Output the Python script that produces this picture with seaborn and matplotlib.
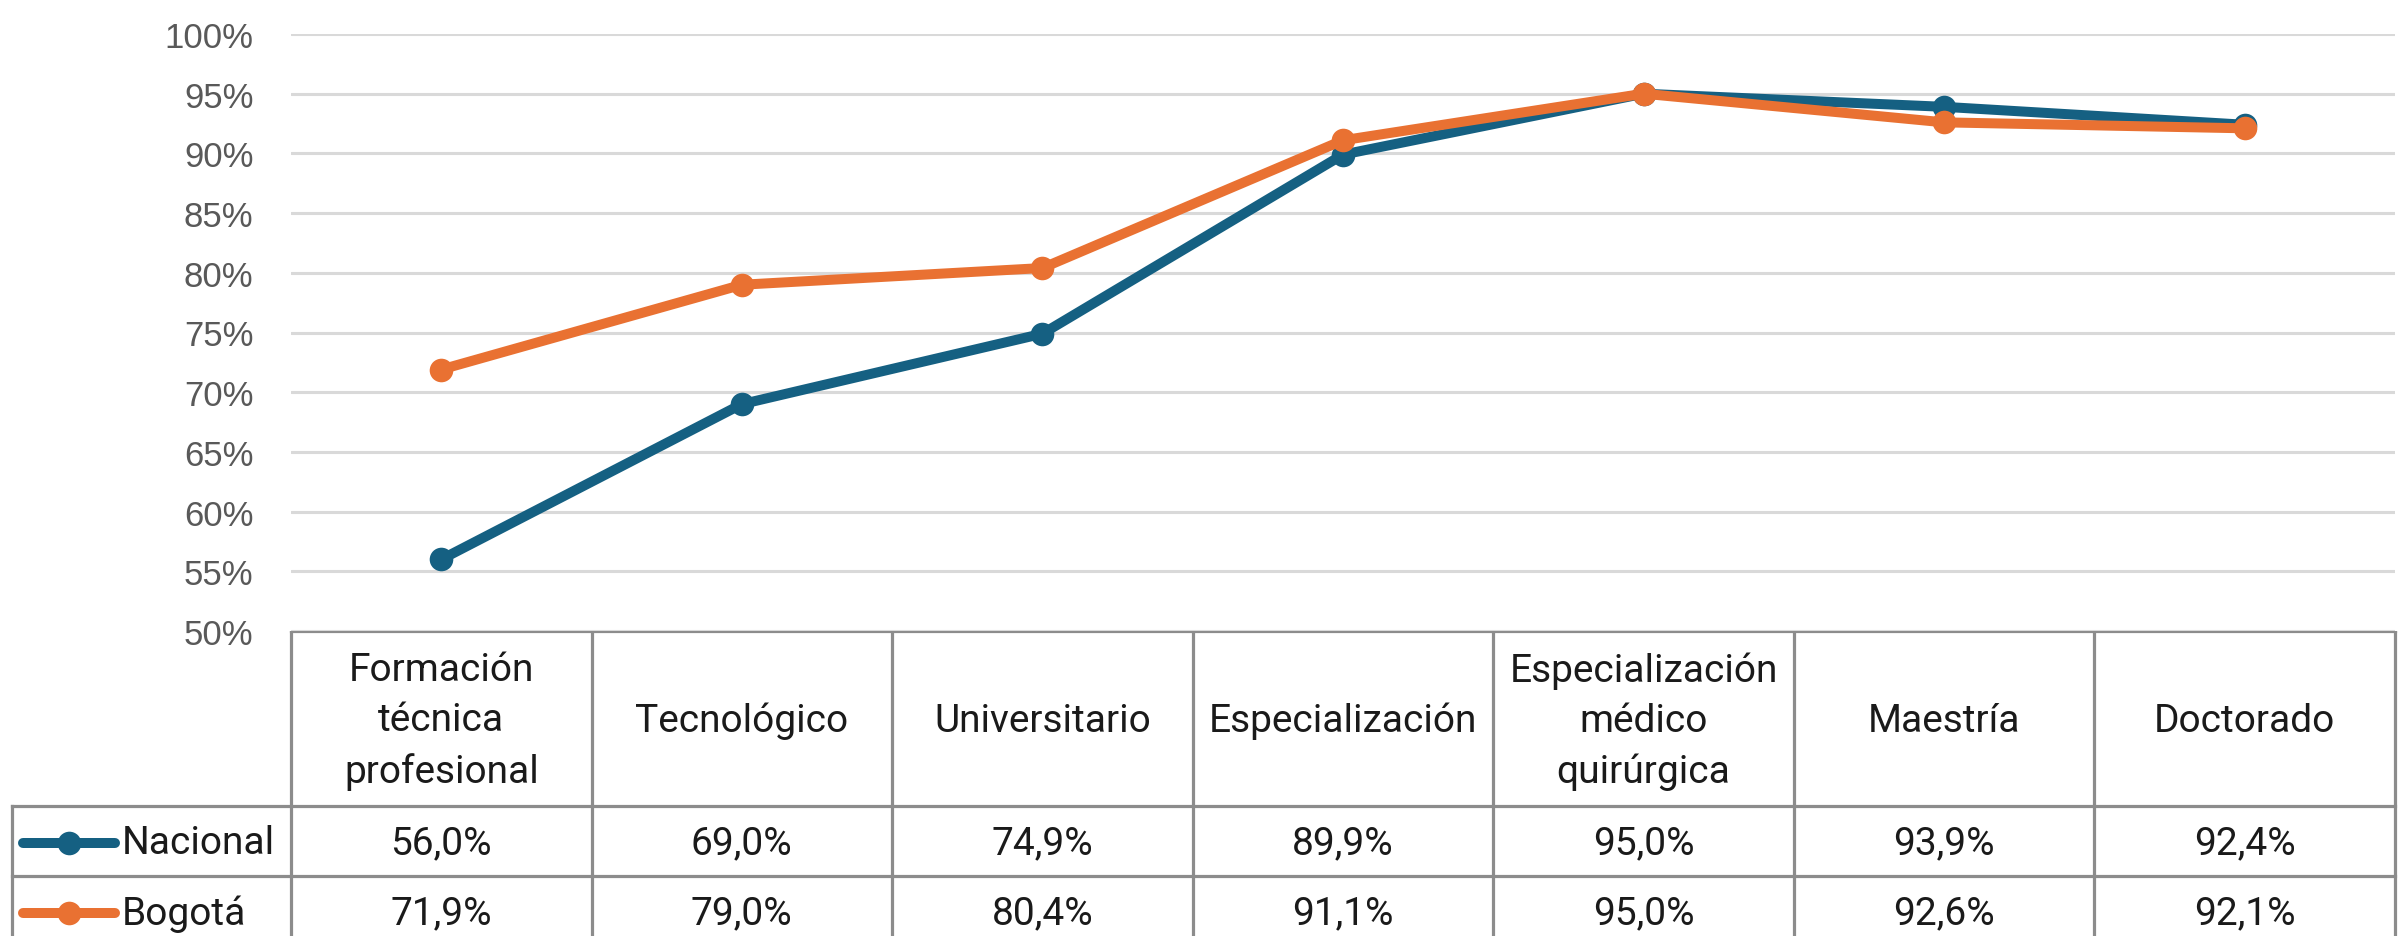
import numpy as np
import pandas as pd
import seaborn as sns
import matplotlib.pyplot as plt

# data
niveles = ['Formación\ntécnica\nprofesional', 'Tecnológico', 'Universitario',
           'Especialización', 'Especialización\nmédico\nquirúrgica',
           'Maestría', 'Doctorado']
nacional = [56.0, 69.0, 74.9, 89.9, 95.0, 93.9, 92.4]
bogota = [71.9, 79.0, 80.4, 91.1, 95.0, 92.6, 92.1]
series = ['Nacional', 'Bogotá']
yticks = list(range(50, 101, 5))

colors = {'Nacional': '#156082', 'Bogotá': '#E97132'}

df = pd.DataFrame({
    'pos': list(range(len(niveles))) * 2,
    'valor': nacional + bogota,
    'serie': ['Nacional'] * len(nacional) + ['Bogotá'] * len(bogota),
})

W, H = 2402, 937
sns.set_theme(style='white')
plt.rcParams['font.family'] = ['Liberation Sans', 'DejaVu Sans']
table_font = ['Liberation Sans Narrow', 'Roboto', 'DejaVu Sans']

fig = plt.figure(figsize=(W / 100, H / 100), dpi=100)

# layout in pixels
x0, x1 = 291, 2395
y_top, y_base = 35, 632
col_w = (x1 - x0) / len(niveles)

ax = fig.add_axes([x0 / W, 1 - y_base / H, (x1 - x0) / W, (y_base - y_top) / H])
sns.lineplot(data=df, x='pos', y='valor', hue='serie', palette=colors,
             marker='o', markersize=17, markeredgewidth=0, linewidth=7.2,
             legend=False, ax=ax, zorder=3)
ax.set_xlim(-0.5, len(niveles) - 0.5)
ax.set_ylim(50, 100)
ax.set_yticks(yticks)
ax.set_yticklabels([f'{v}%' for v in yticks], fontsize=25, color='#595959')
ax.set_xticks([])
ax.set_xlabel('')
ax.set_ylabel('')
ax.tick_params(axis='y', length=0, pad=27)
ax.grid(axis='y', color='#D9D9D9', linewidth=2.2, zorder=0)
for s in ax.spines.values():
    s.set_visible(False)

# data table below the plot
tax = fig.add_axes([0, 0, 1, 1 - y_base / H])
tax.set_xlim(0, W)
tax.set_ylim(H, y_base)
tax.axis('off')

border = dict(color='#8C8C8C', linewidth=2.3, solid_capstyle='projecting')
left = 12
r1, r2 = 807, 877
tax.plot([x0, x1], [y_base, y_base], **border)
tax.plot([left, x1], [r1, r1], **border)
tax.plot([left, x1], [r2, r2], **border)
tax.plot([left, left], [r1, H + 5], **border)
for i in range(len(niveles) + 1):
    xx = x0 + i * col_w
    tax.plot([xx, xx], [y_base, H + 5], **border)

txt = dict(fontsize=28, color='#1A1A1A', family=table_font, ha='center', va='center')
for i, lab in enumerate(niveles):
    cx = x0 + (i + 0.5) * col_w
    tax.text(cx, (y_base + r1) / 2 + 2, lab, linespacing=1.45, **txt)

rows = [(r1 + r2) / 2 + 2, r2 + (r2 - r1) / 2 + 2]
for serie, vals, cy in zip(series, [nacional, bogota], rows):
    for i, v in enumerate(vals):
        cx = x0 + (i + 0.5) * col_w
        tax.text(cx, cy, f'{v:.1f}%'.replace('.', ','), **txt)
    tax.plot([23, 115], [cy, cy], color=colors[serie], linewidth=7.2,
             solid_capstyle='round')
    tax.plot([69], [cy], marker='o', markersize=17, markeredgewidth=0,
             color=colors[serie])
    tax.text(122, cy, serie, fontsize=28, color='#1A1A1A', family=table_font,
             ha='left', va='center')

fig.savefig('out.png', dpi=100)
